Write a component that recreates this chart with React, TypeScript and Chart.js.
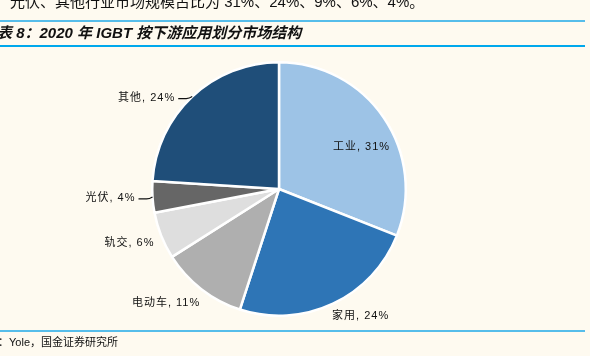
import React, { useEffect, useRef } from "react";
import { Chart, registerables } from "chart.js";

Chart.register(...registerables);

const categories = ["工业", "家用", "电动车", "轨交", "光伏", "其他"];
const shares = [31, 24, 11, 6, 4, 24];
const sliceColors = ["#9DC3E6", "#2E75B6", "#AFAFAF", "#DEDEDE", "#666666", "#1F4E79"];

const headText = "光伏、其他行业市场规模占比为 31%、24%、9%、6%、4%。";
const titleText = "表 8：2020 年 IGBT 按下游应用划分市场结构";
const sourceText = "：Yole，国金证券研究所";

// label layout: radius factor, nudges, leader line
const labelLayout = [
  { f: 0.73, dx: 6, dy: 10, leader: false },
  { f: 1.18, dx: 18, dy: -8, leader: false },
  { f: 1.26, dx: -15, dy: -12, leader: false },
  { f: 1.26, dx: -1, dy: -5, leader: false },
  { f: 1.0, dx: 0, dy: 0, leader: true },
  { f: 1.0, dx: 0, dy: 0, leader: true },
];

const BG = "#FEFAF0";
const CJK = "'Liberation Sans', 'Noto Sans CJK SC', sans-serif";

const pagePlugin = {
  id: "page",
  beforeDraw(chart: any) {
    const ctx = chart.ctx;
    ctx.save();
    ctx.fillStyle = BG;
    ctx.fillRect(0, 0, chart.width, chart.height);
    ctx.fillStyle = "#56BDEA";
    ctx.fillRect(0, 20, 585, 2);
    ctx.fillStyle = "#00A8EC";
    ctx.fillRect(0, 45, 585, 2);
    ctx.fillStyle = "#56BDEA";
    ctx.fillRect(0, 330, 585, 2);
    ctx.fillStyle = "#111";
    ctx.textBaseline = "alphabetic";
    ctx.textAlign = "left";
    ctx.font = `15px ${CJK}`;
    ctx.fillText(headText, 10, 7);
    ctx.font = `italic bold 15px ${CJK}`;
    ctx.fillText(titleText, -3, 38);
    ctx.font = `11px ${CJK}`;
    ctx.fillText(sourceText, -2, 346);
    ctx.restore();
  },
  afterDatasetsDraw(chart: any) {
    const ctx = chart.ctx;
    const meta = chart.getDatasetMeta(0);
    ctx.save();
    ctx.font = `11px ${CJK}`;
    ctx.fillStyle = "#111";
    ctx.textBaseline = "middle";
    try { (ctx as any).letterSpacing = "1px"; } catch (e) {}
    meta.data.forEach((arc: any, i: number) => {
      const p = arc.getProps(["x", "y", "startAngle", "endAngle", "outerRadius"], true);
      const mid = (p.startAngle + p.endAngle) / 2;
      const L = labelLayout[i];
      const cos = Math.cos(mid), sin = Math.sin(mid);
      const text = `${categories[i]}, ${shares[i]}%`;
      if (L.leader) {
        const ex = p.x + cos * p.outerRadius;
        const ey = p.y + sin * p.outerRadius;
        const lx = ex - 14;
        const ly = ey + 2;
        ctx.strokeStyle = "#111";
        ctx.lineWidth = 1.2;
        ctx.beginPath();
        ctx.moveTo(ex, ey);
        ctx.quadraticCurveTo(ex - 3, ly, ex - 6, ly);
        ctx.lineTo(lx, ly);
        ctx.stroke();
        ctx.textAlign = "right";
        ctx.fillText(text, lx - 3, ly - 1);
      } else {
        const x = p.x + cos * p.outerRadius * L.f + L.dx;
        const y = p.y + sin * p.outerRadius * L.f + L.dy;
        ctx.textAlign = "center";
        ctx.fillText(text, x, y);
      }
    });
    ctx.restore();
  },
};

export default function App() {
  const ref = useRef<HTMLCanvasElement>(null);
  useEffect(() => {
    if (!ref.current) return;
    const chart = new Chart(ref.current, {
      type: "pie",
      data: {
        labels: categories,
        datasets: [
          {
            data: shares,
            backgroundColor: sliceColors,
            borderColor: "#FFFFFF",
            borderWidth: 2.5,
          },
        ],
      },
      options: {
        responsive: false,
        animation: false,
        layout: { padding: { top: 61, bottom: 39, left: 0, right: 32 } },
        plugins: {
          legend: { display: false },
          tooltip: { enabled: false },
        },
      },
      plugins: [pagePlugin],
    });
    return () => chart.destroy();
  }, []);
  return (
    <div style={{ position: "fixed", left: 0, top: 0, width: 590, height: 356, background: BG }}>
      <canvas ref={ref} width={590} height={356} style={{ width: 590, height: 356, display: "block" }} />
    </div>
  );
}
